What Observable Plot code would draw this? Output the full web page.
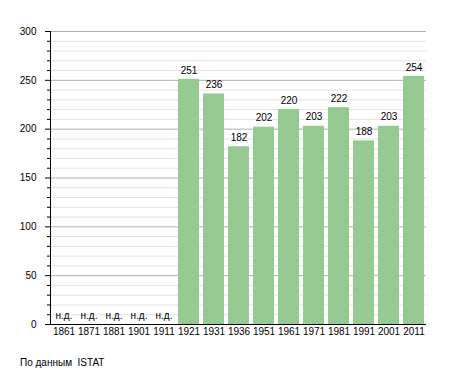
<!DOCTYPE html>
<html><head><meta charset="utf-8">
<script src="https://cdn.jsdelivr.net/npm/d3@7"></script>
<script src="https://cdn.jsdelivr.net/npm/@observablehq/plot@0.6"></script>
<style>
body{margin:0;background:#fff;font-family:"Liberation Sans",Arial,sans-serif;}
#cap{font-size:10px;color:#000;margin:12px 0 0 20px;}
</style></head><body>
<div id="chart"></div>
<div id="cap">По данным&nbsp; ISTAT</div>
<script>
const years = ["1861","1871","1881","1901","1911","1921","1931","1936","1951","1961","1971","1981","1991","2001","2011"];
const population = [null,null,null,null,null,251,236,182,202,220,203,222,188,203,254];
const data = years.map((y,i)=>({year:y, value:population[i]}));
const known = data.filter(d=>d.value!=null);
const missing = data.filter(d=>d.value==null);
const minor = d3.range(0,301,10).filter(v=>v%50!==0);
const major = d3.range(0,301,50);
const chart = Plot.plot({
  width:455, height:345,
  marginLeft:50, marginRight:29, marginTop:31, marginBottom:21,
  style:{fontFamily:"'Liberation Sans', Arial, sans-serif", fontSize:"10px", color:"#000"},
  x:{domain:years, paddingInner:0.18, paddingOuter:0.02, label:null},
  y:{domain:[0,300], label:null},
  marks:[
    Plot.ruleY(minor,{stroke:"#e3e3e3", strokeWidth:1}),
    Plot.ruleY(major.filter(v=>v>0),{stroke:"#b0b0b0", strokeWidth:1}),
    Plot.barY(known,{x:"year", y:"value", fill:"#97c993"}),
    Plot.text(known,{x:"year", y:"value", text:d=>String(d.value), dy:-9, fill:"#000", fontSize:10}),
    Plot.text(missing,{x:"year", y:0, text:()=>"н.д.", dy:-9, fill:"#000", fontSize:10}),
    Plot.axisY(major,{tickSize:5, tickPadding:9, stroke:"#000", fontSize:10}),
    Plot.axisY(minor,{tickSize:3, text:null, stroke:"#000"}),
    Plot.axisX({tickSize:0, tickPadding:3, fontSize:10}),
    Plot.ruleY([0],{stroke:"#000"}),
    Plot.frame({anchor:"left", stroke:"#000"})
  ]
});
document.getElementById("chart").appendChild(chart);
</script>
</body></html>
